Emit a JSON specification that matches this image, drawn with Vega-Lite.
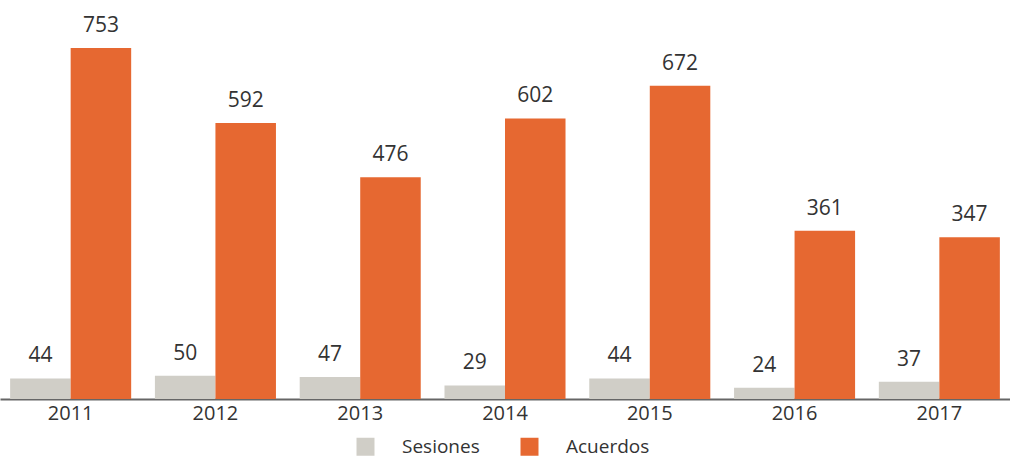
{
  "$schema": "https://vega.github.io/schema/vega-lite/v6.json",
  "width": 1010,
  "height": 399,
  "padding": {"left": 0, "top": 0, "right": 0, "bottom": 8},
  "background": "white",
  "config": {"view": {"stroke": null}, "font": "Open Sans"},
  "data": {"values": [
    {"year": "2011", "serie": "Sesiones", "value": 44},
    {"year": "2011", "serie": "Acuerdos", "value": 753},
    {"year": "2012", "serie": "Sesiones", "value": 50},
    {"year": "2012", "serie": "Acuerdos", "value": 592},
    {"year": "2013", "serie": "Sesiones", "value": 47},
    {"year": "2013", "serie": "Acuerdos", "value": 476},
    {"year": "2014", "serie": "Sesiones", "value": 29},
    {"year": "2014", "serie": "Acuerdos", "value": 602},
    {"year": "2015", "serie": "Sesiones", "value": 44},
    {"year": "2015", "serie": "Acuerdos", "value": 672},
    {"year": "2016", "serie": "Sesiones", "value": 24},
    {"year": "2016", "serie": "Acuerdos", "value": 361},
    {"year": "2017", "serie": "Sesiones", "value": 37},
    {"year": "2017", "serie": "Acuerdos", "value": 347}
  ]},
  "encoding": {
    "x": {"field": "year", "type": "nominal",
      "scale": {"paddingInner": 0.164, "paddingOuter": 0.07},
      "axis": {"title": null, "labelAngle": 0, "ticks": false, "domainColor": "#666666", "domainWidth": 2,
        "labelFontSize": 20, "labelColor": "#333333", "labelPadding": 4}},
    "xOffset": {"field": "serie", "type": "nominal", "sort": ["Sesiones", "Acuerdos"]},
    "y": {"field": "value", "type": "quantitative", "scale": {"domain": [0, 856]}, "axis": null}
  },
  "layer": [
    {"mark": {"type": "bar"},
     "encoding": {"color": {"field": "serie", "type": "nominal", "sort": ["Sesiones", "Acuerdos"],
        "scale": {"domain": ["Sesiones", "Acuerdos"], "range": ["#D0CEC7", "#E66831"]},
        "legend": {"title": null, "orient": "none", "legendX": 356, "legendY": 437, "padding": 0,
          "direction": "horizontal", "symbolType": "square",
          "symbolSize": 324, "symbolStrokeWidth": 0, "labelFontSize": 19, "labelColor": "#333333",
          "labelOffset": 27, "columnPadding": 40}}}},
    {"mark": {"type": "text", "baseline": "bottom", "dy": -12, "fontSize": 21, "color": "#333333"},
     "encoding": {"text": {"field": "value", "type": "quantitative"}}}
  ]
}
